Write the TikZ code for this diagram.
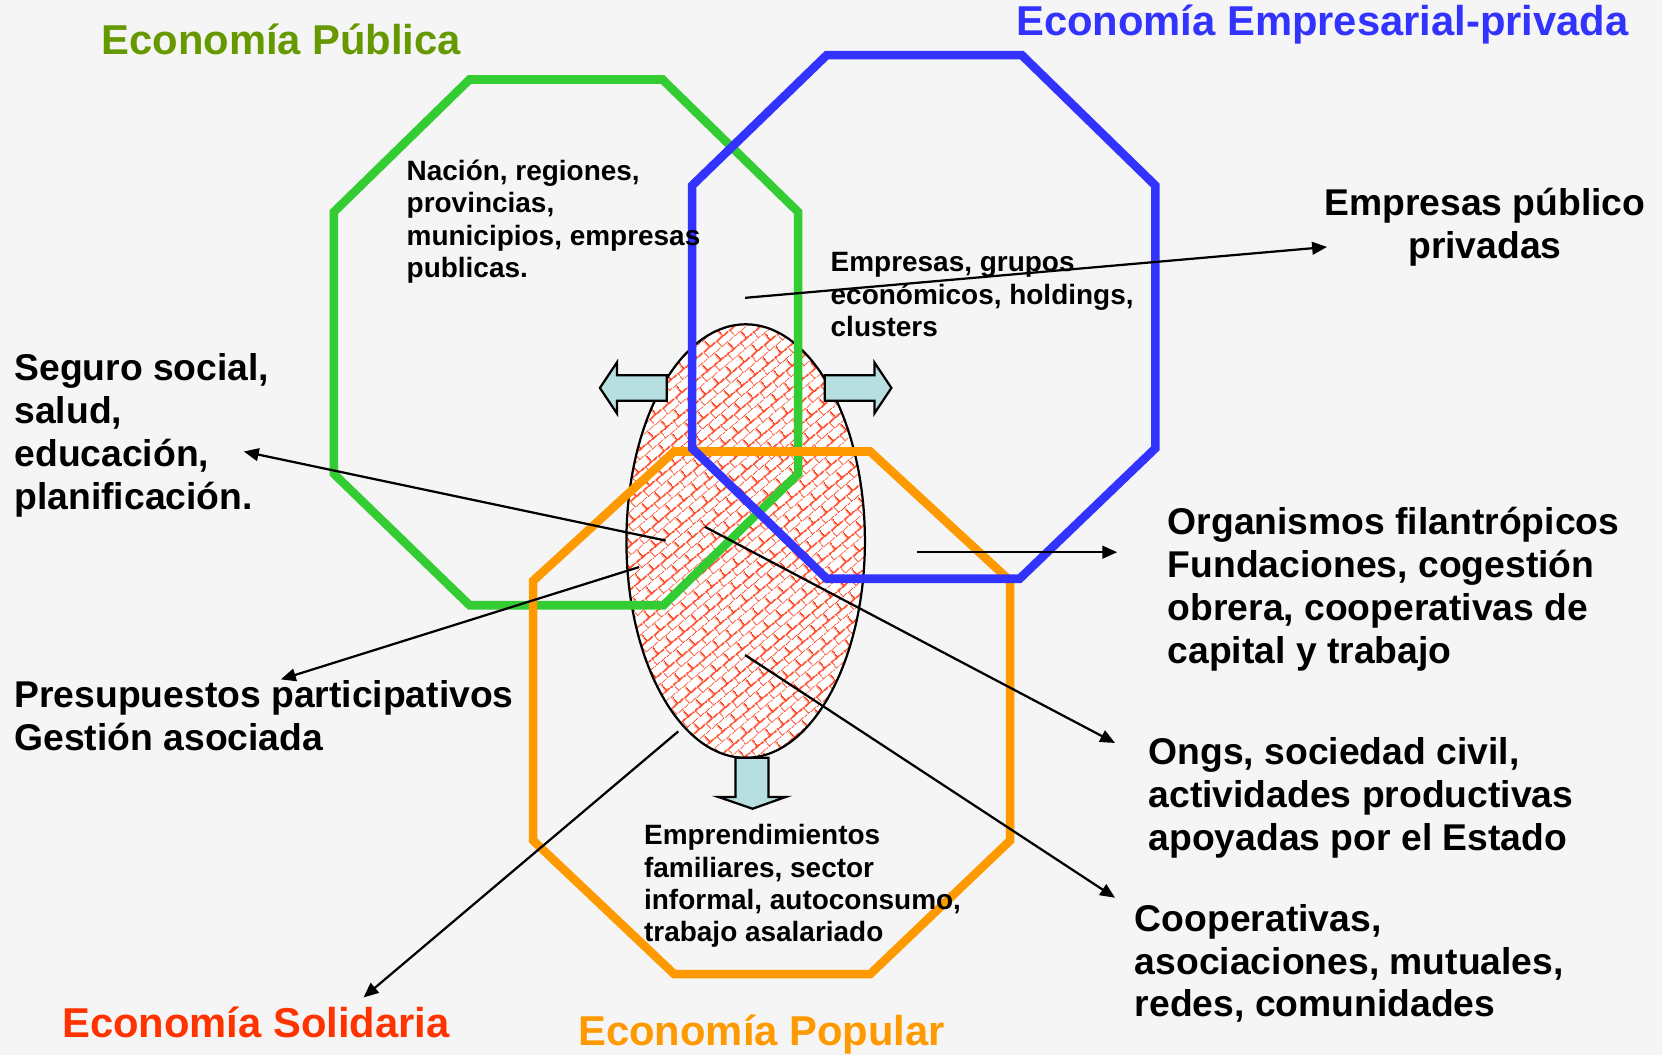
\documentclass[tikz,border=0pt]{standalone}
\usepackage{fontspec}
\setmainfont{Liberation Sans}
\usepackage{xcolor}
\usetikzlibrary{calc, arrows.meta, patterns.meta}

\definecolor{fondo}{HTML}{F5F5F5}
\definecolor{verde}{HTML}{33CC33}
\definecolor{azul}{HTML}{3333FF}
\definecolor{naranja}{HTML}{FF9900}
\definecolor{oliva}{HTML}{669900}
\definecolor{rojo}{HTML}{FF3300}
\definecolor{celeste}{HTML}{B7DFE1}
\definecolor{ladrillo}{HTML}{FF4422}

\tikzdeclarepattern{
	name=ladrillos,
	type=uncolored,
	bottom left={(0pt,0pt)},
	top right={(4.6pt,4.6pt)},
	tile size={(4.6pt,4.6pt)},
	tile transformation={rotate=40},
	code={
		\draw[line width=0.45pt] (0pt,0pt) -- (4.6pt,0pt);
		\draw[line width=0.45pt] (0pt,2.3pt) -- (4.6pt,2.3pt);
		\draw[line width=0.45pt] (0pt,0pt) -- (0pt,2.3pt);
		\draw[line width=0.45pt] (2.3pt,2.3pt) -- (2.3pt,4.6pt);
	}
}

\begin{document}
\begin{tikzpicture}[x=0.01cm, y=-0.01cm,
		octa/.style={line width=2.3pt},
		bloque/.style={fill=celeste, draw=black, line width=0.6pt},
		flecha/.style={-{Triangle[length=4pt, width=3.4pt]}, line width=0.6pt},
		titulo/.style={font=\fontsize{11.2}{13}\selectfont\bfseries, inner sep=0pt, anchor=west},
		texto/.style={font=\fontsize{10}{11.5}\selectfont\bfseries, align=left, inner sep=0pt, anchor=west},
		chico/.style={font=\fontsize{7.5}{8.7}\selectfont\bfseries, align=left, inner sep=0pt, anchor=west}]
		
		\useasboundingbox (0,0) rectangle (1568,995);
		\fill[fondo] (0,0) rectangle (1568,995);
		
		\fill[white] (703.5,510.5) ellipse [x radius=112.5, y radius=204.5];
		\draw[line width=0.6pt, pattern=ladrillos, pattern color=ladrillo] (703.5,510.5) ellipse [x radius=112.5, y radius=204.5];
		
		\draw[octa, verde] (443,75) -- (625,75) -- (753,200) -- (753,447) -- (626,571) -- (443,571) -- (315,447) -- (315,200) -- cycle;
		\draw[octa, naranja] (636,426) -- (821,426) -- (953,548) -- (953,793) -- (821,919) -- (636,919) -- (503,793) -- (503,548) -- cycle;
		\draw[octa, azul] (780,52) -- (964,52) -- (1090,175) -- (1090,423) -- (962,546) -- (780,546) -- (653,423) -- (653,175) -- cycle;
		
		\path[bloque] (629,354) -- (582,354) -- (582,342) -- (566,366) -- (582,390) -- (582,378) -- (629,378) -- cycle;
		\path[bloque] (778,354) -- (825,354) -- (825,342) -- (841,366) -- (825,390) -- (825,378) -- (778,378) -- cycle;
		\path[bloque] (694,715) -- (694,752) -- (678,752) -- (710,763) -- (741,752) -- (725,752) -- (725,715) -- cycle;
		
		\node[titulo, oliva] (publica) at (95,37) {Economía Pública};
		\node[titulo, azul] (empresarial) at (958,23) {Economía Empresarial-privada};
		\node[titulo, rojo] (solidaria) at (58,965) {Economía Solidaria};
		\node[titulo, naranja] (popular) at (545,976) {Economía Popular};
		
		\node[chico] (estado) at (383,209) {Nación, regiones,\\provincias,\\municipios, empresas\\publicas.};
		\node[chico] (privado) at (783,278) {Empresas, grupos\\económicos, holdings,\\clusters};
		\node[chico] (familiar) at (607,836) {Emprendimientos\\familiares, sector\\informal, autoconsumo,\\trabajo asalariado};
		
		\node[texto, align=center, anchor=center] (mixtas) at (1401,214) {Empresas público\\privadas};
		\node[texto] (seguro) at (13,411) {Seguro social,\\salud,\\educación,\\planificación.};
		\node[texto] (presupuesto) at (13,675) {Presupuestos participativos\\Gestión asociada};
		\node[texto] (organismos) at (1101,556) {Organismos filantrópicos\\Fundaciones, cogestión\\obrera, cooperativas de\\capital y trabajo};
		\node[texto] (ongs) at (1083,753) {Ongs, sociedad civil,\\actividades productivas\\apoyadas por el Estado};
		\node[texto] (cooperativas) at (1070,909) {Cooperativas,\\asociaciones, mutuales,\\redes, comunidades};
		
		\coordinate (de-mixtas) at (703,281);
		\coordinate (a-mixtas) at (1252,233);
		\coordinate (de-seguro) at (628,510);
		\coordinate (a-seguro) at (230,426);
		\coordinate (de-presupuesto) at (603,535);
		\coordinate (a-presupuesto) at (265,641);
		\coordinate (de-solidaria) at (640,690);
		\coordinate (a-solidaria) at (343,941);
		\coordinate (de-ongs) at (665,497);
		\coordinate (a-ongs) at (1052,701);
		\coordinate (de-cooperativas) at (703,618);
		\coordinate (a-cooperativas) at (1052,847);
		\coordinate (de-organismos) at (865,521);
		\coordinate (a-organismos) at (1054,521);
		
		\begin{scope}[flecha]
			\draw (de-mixtas) -- (a-mixtas);
			\draw (de-seguro) -- (a-seguro);
			\draw (de-presupuesto) -- (a-presupuesto);
			\draw (de-solidaria) -- (a-solidaria);
			\draw (de-ongs) -- (a-ongs);
			\draw (de-cooperativas) -- (a-cooperativas);
			\draw (de-organismos) -- (a-organismos);
		\end{scope}
	\end{tikzpicture}
\end{document}
